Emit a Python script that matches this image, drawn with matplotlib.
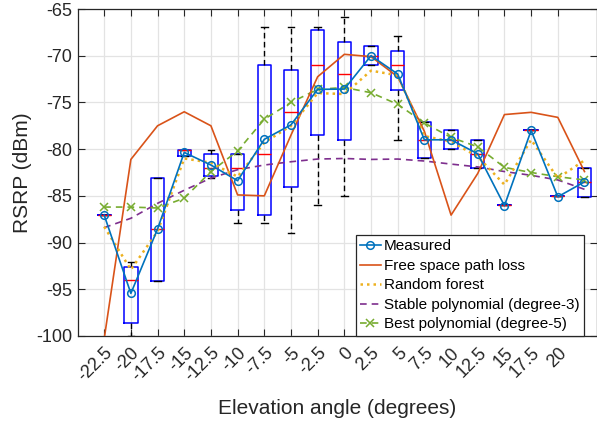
import matplotlib
matplotlib.use("Agg")
import matplotlib.pyplot as plt
import numpy as np

plt.rcParams['font.family'] = ['Liberation Sans', 'DejaVu Sans']
plt.rcParams['axes.unicode_minus'] = False

# ---- data ----
tick_labels = ['-22.5', '-20', '-17.5', '-15', '-12.5', '-10', '-7.5', '-5', '-2.5',
               '0', '2.5', '5', '7.5', '10', '12.5', '15', '17.5', '20']

# box plot statistics per group (19 groups)
box_q1 = [-87.0, -98.65, -94.1, -80.74, -82.85, -86.5, -87.0, -84.0, -78.5, -79.0,
          -71.0, -73.67, -81.0, -80.0, -82.06, -86.0, -78.0, -85.0, -85.1]
box_q3 = [-87.0, -92.6, -83.06, -80.06, -80.56, -80.56, -71.0, -71.5, -67.2, -68.5,
          -68.96, -69.5, -77.06, -78.0, -79.0, -86.0, -78.0, -85.0, -82.06]
box_med = [-87.0, -94.0, -88.55, -80.06, -82.06, -82.06, -80.5, -76.0, -71.0, -71.96,
           -70.0, -71.0, -79.0, -79.0, -80.5, -86.0, -78.0, -85.0, -83.56]
box_whislo = [-87.0, -100.0, -94.1, -80.74, -83.06, -87.95, -87.95, -89.0, -86.0, -85.0,
              -71.0, -79.0, -81.0, -80.0, -82.06, -86.0, -78.0, -85.0, -85.1]
box_whishi = [-87.0, -92.05, -83.06, -80.06, -80.06, -80.56, -66.96, -66.96, -66.96, -65.9,
              -68.96, -67.9, -77.06, -78.0, -79.0, -86.0, -78.0, -85.0, -82.06]

measured = [-87.06, -95.44, -88.55, -80.35, -81.7, -83.38, -78.95, -77.4, -73.6, -73.57,
            -70.0, -71.96, -79.0, -79.0, -80.5, -86.05, -78.0, -85.1, -83.5]
fspl = [-100.3, -81.1, -77.5, -76.0, -77.5, -84.9, -85.0, -78.5, -72.25, -69.85,
        -70.1, -72.25, -78.1, -87.06, -82.6, -76.3, -76.06, -76.6, -82.4]
random_forest = [-88.3, -92.9, -88.8, -81.0, -81.45, -82.95, -79.3, -77.5, -74.0, -74.1,
                 -71.6, -72.1, -78.6, -79.2, -80.8, -83.8, -79.0, -83.1, -81.2]
stable_poly = [-88.4, -87.4, -85.8, -84.4, -83.1, -82.2, -81.7, -81.35, -81.06, -81.0,
               -81.1, -81.06, -81.27, -81.6, -81.9, -82.4, -82.8, -83.3, -84.3]
best_poly = [-86.2, -86.2, -86.3, -85.25, -82.4, -80.2, -76.8, -75.0, -73.6, -73.4,
             -73.96, -75.2, -77.2, -78.75, -79.75, -81.95, -82.5, -82.95, -83.3]

# ---- figure ----
fig = plt.figure(figsize=(5.97, 4.21), dpi=100)
ax = fig.add_axes([77.5 / 597, 1 - 336 / 421, (596.5 - 77.5) / 597, (336 - 9) / 421])

positions = np.arange(1, len(box_q1) + 1)
stats = []
for i in range(len(box_q1)):
    stats.append(dict(med=box_med[i], q1=box_q1[i], q3=box_q3[i],
                      whislo=box_whislo[i], whishi=box_whishi[i], fliers=[]))

ax.bxp(stats, positions=positions, widths=0.5, showfliers=False, capwidths=0.25,
       boxprops=dict(color='#0000ff', linewidth=1.1),
       medianprops=dict(color='#ff0000', linewidth=1.0),
       whiskerprops=dict(color='black', linewidth=1.0, linestyle=(0, (4, 2.5))),
       capprops=dict(color='black', linewidth=1.0),
       manage_ticks=False, zorder=2)

ax.plot(positions, measured, color='#0072BD', lw=1.2, marker='o', markersize=5.5,
        markerfacecolor='none', markeredgewidth=1.1, label='Measured', zorder=5)
ax.plot(positions, fspl, color='#D95319', lw=1.2, label='Free space path loss', zorder=4)
ax.plot(positions, random_forest, color='#EDB120', lw=1.8, linestyle=(0, (1, 1.6)),
        label='Random forest', zorder=4)
ax.plot(positions, stable_poly, color='#7E2F8E', lw=1.2, linestyle=(0, (4, 3)),
        label='Stable polynomial (degree-3)', zorder=3)
ax.plot(positions, best_poly, color='#77AC30', lw=1.2, linestyle=(0, (4, 3)), marker='x',
        markersize=6, markeredgewidth=1.1, label='Best polynomial (degree-5)', zorder=3)

ax.set_xlim(0, 19.45)
ax.set_ylim(-100, -65)
ax.set_yticks(np.arange(-100, -64, 5))
ax.set_xticks(np.arange(1, len(tick_labels) + 1))
ax.set_xticklabels(tick_labels, rotation=45, ha='right', va='top', rotation_mode='anchor')

ax.grid(True, color='#e3e3e3', linewidth=0.9, zorder=0)
ax.set_axisbelow(True)
ax.tick_params(direction='in', length=5, width=0.8, top=True, right=True,
               colors='#262626', labelsize=13, pad=4)
ax.tick_params(axis='x', pad=6)
for s in ax.spines.values():
    s.set_color('#262626')
    s.set_linewidth(0.9)

ax.set_xlabel('Elevation angle (degrees)', fontsize=15, color='#262626', labelpad=10)
ax.set_ylabel('RSRP (dBm)', fontsize=15, color='#262626', labelpad=3)

leg = ax.legend(loc='lower right', bbox_to_anchor=(584 / 597, 1 - 336 / 421),
                bbox_transform=fig.transFigure, fontsize=11, frameon=True, fancybox=False,
                edgecolor='#262626', framealpha=1, handlelength=1.35, handletextpad=0.2,
                labelspacing=0.36, borderpad=0.3, borderaxespad=0)
leg.get_frame().set_linewidth(0.9)

fig.savefig('out.png', dpi=100)
